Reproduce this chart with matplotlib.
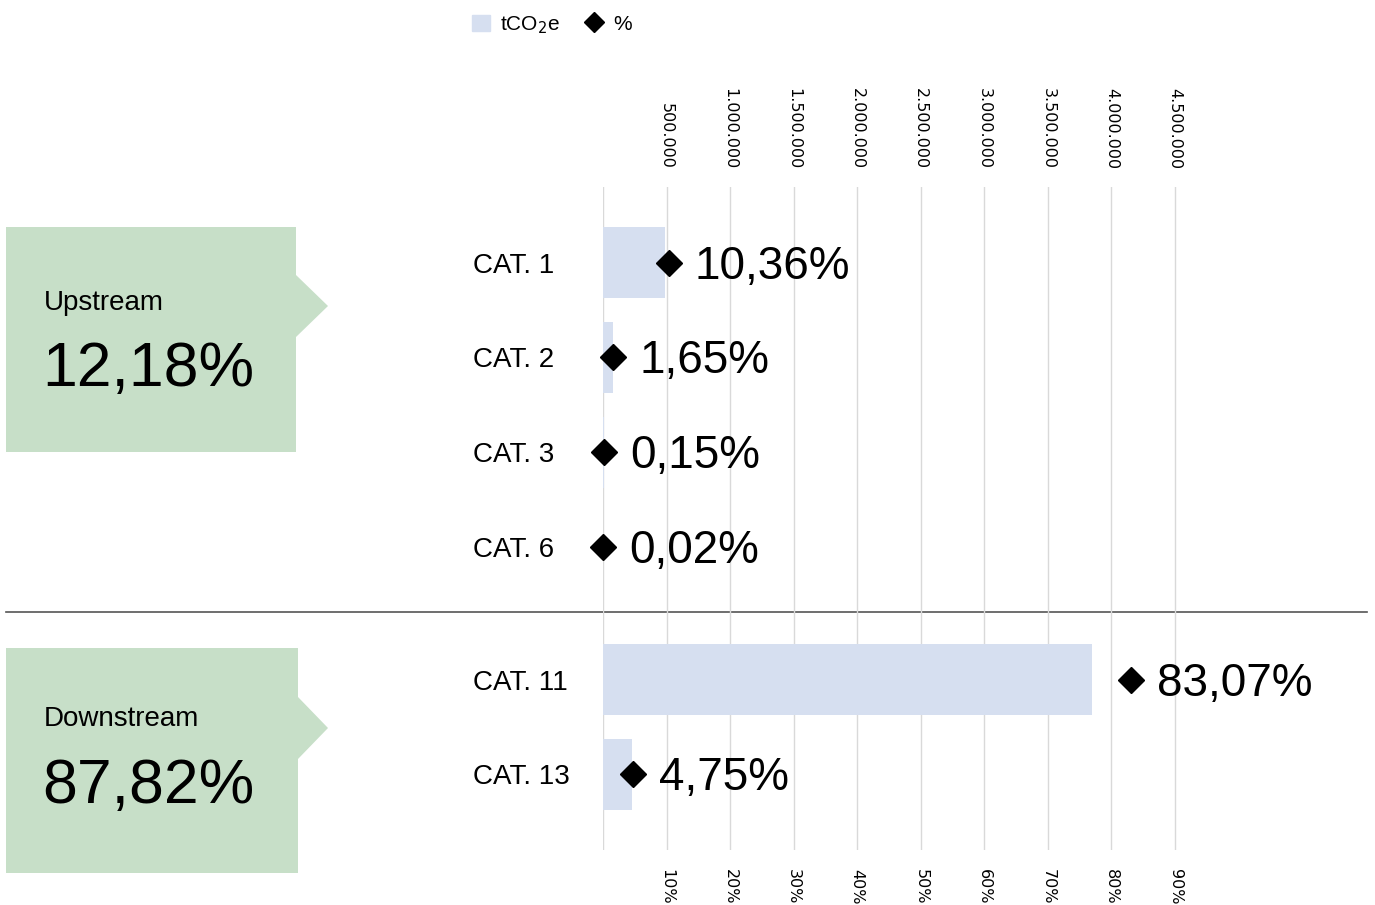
import numpy as np
import matplotlib
matplotlib.use("Agg")
import matplotlib.pyplot as plt
from matplotlib.patches import Polygon, Patch
from matplotlib.lines import Line2D

# =========================
# 数据
# =========================
upstream_cats = ["CAT. 1", "CAT. 2", "CAT. 3", "CAT. 6"]
upstream_tco2e = [487000, 79000, 7000, 1000]
upstream_pct = [10.36, 1.65, 0.15, 0.02]
upstream_labels = ["10,36%", "1,65%", "0,15%", "0,02%"]

downstream_cats = ["CAT. 11", "CAT. 13"]
downstream_tco2e = [3844000, 228000]
downstream_pct = [83.07, 4.75]
downstream_labels = ["83,07%", "4,75%"]

group_names = ["Upstream", "Downstream"]
group_totals = ["12,18%", "87,82%"]

top_ticks = [500000, 1000000, 1500000, 2000000, 2500000, 3000000, 3500000, 4000000, 4500000]
top_ticklabels = ["500.000", "1.000.000", "1.500.000", "2.000.000", "2.500.000",
                  "3.000.000", "3.500.000", "4.000.000", "4.500.000"]
pct_ticks = [10, 20, 30, 40, 50, 60, 70, 80, 90]
pct_ticklabels = ["10%", "20%", "30%", "40%", "50%", "60%", "70%", "80%", "90%"]

# =========================
# 样式
# =========================
BAR_COLOR = "#d6dff0"
BOX_COLOR = "#c7dfc8"
GRID_COLOR = "#d9d9d9"
FONT = ["Liberation Sans", "DejaVu Sans"]
TCO2E_PER_PCT = 50000  # 10% 与 500.000 对齐

W, H = 1375, 905
fig = plt.figure(figsize=(W / 100, H / 100), dpi=100)

# 背景覆盖层 (像素坐标): 绿色框 + 分隔线
ov = fig.add_axes([0, 0, 1, 1], zorder=0)
ov.set_xlim(0, W)
ov.set_ylim(H, 0)
ov.axis("off")

# 主图区域 (像素 -> 比例)
ax_left, ax_right, ax_top, ax_bottom = 603, 1230, 187, 850
ax = fig.add_axes([ax_left / W, 1 - ax_bottom / H, (ax_right - ax_left) / W, (ax_bottom - ax_top) / H],
                  zorder=1)
ax.patch.set_visible(False)

cats = upstream_cats + downstream_cats
vals = upstream_tco2e + downstream_tco2e
pcts = upstream_pct + downstream_pct
plabels = upstream_labels + downstream_labels
gap = 0.4
ypos = np.concatenate([np.arange(len(upstream_cats)),
                       np.arange(len(downstream_cats)) + len(upstream_cats) + gap])

xmax = (ax_right - ax_left) / ((1175 - 603) / 9) * 500000
ax.barh(ypos, vals, height=0.75, color=BAR_COLOR, zorder=2)
pct_x = np.array(pcts) * TCO2E_PER_PCT
ax.plot(pct_x, ypos, "D", color="black", ms=13.5, zorder=4, clip_on=False)

# 百分比标签: 菱形右侧约 26px
for x, y, t in zip(pct_x, ypos, plabels):
    ax.annotate(t, (x, y), xytext=(26 * 0.72, -16 * 0.72), textcoords="offset points",
                fontsize=33, family=FONT, va="baseline", ha="left",
                annotation_clip=False, zorder=5)

ax.set_xlim(0, xmax)
ax.set_ylim(ypos[-1] + 0.8, -0.8)

# 顶部 tCO2e 轴
ax.xaxis.tick_top()
ax.set_xticks(top_ticks)
ax.set_xticklabels(top_ticklabels, rotation=-90, fontsize=11.5, family="DejaVu Sans", color="black")
ax.tick_params(axis="x", length=0, pad=13)
ax.grid(axis="x", color=GRID_COLOR, lw=1, zorder=0)
ax.axvline(0, color=GRID_COLOR, lw=1, zorder=1)

# 类别标签
ax.set_yticks(ypos)
ax.set_yticklabels(cats, fontsize=20, family=FONT)
for lbl in ax.get_yticklabels():
    lbl.set_horizontalalignment("left")
ax.tick_params(axis="y", length=0, pad=(ax_left - 473) * 0.72)

for s in ax.spines.values():
    s.set_visible(False)

# 底部百分比轴
sec = ax.secondary_xaxis("bottom", functions=(lambda x: x / TCO2E_PER_PCT, lambda p: p * TCO2E_PER_PCT))
sec.set_xticks(pct_ticks)
sec.set_xticklabels(pct_ticklabels, rotation=-90, fontsize=11.5, family="DejaVu Sans", color="black")
sec.tick_params(length=0, pad=14)
for s in sec.spines.values():
    s.set_visible(False)

boxes = [(227, 452, 296, 306), (648, 873, 298, 728)]
for (top, bot, right, mid) in boxes:
    ov.add_patch(Polygon([(6, top), (right, top), (right, mid - 31), (328, mid),
                          (right, mid + 31), (right, bot), (6, bot)],
                         closed=True, color=BOX_COLOR, lw=0))

ov.text(44, 310, group_names[0], fontsize=20, family=FONT, va="baseline")
ov.text(42, 386, group_totals[0], fontsize=45, family=FONT, va="baseline")
ov.text(44, 726, group_names[1], fontsize=20, family=FONT, va="baseline")
ov.text(42, 803, group_totals[1], fontsize=45, family=FONT, va="baseline")

ov.plot([6, 1367], [612, 612], color="#555555", lw=1.2)

# 图例
handles = [Patch(color=BAR_COLOR),
           Line2D([], [], marker="D", ls="", color="black", ms=10)]
fig.legend(handles, ["tCO$_2$e", "%"], loc="center", bbox_to_anchor=(552 / W, 1 - 25 / H),
           ncol=2, frameon=False, prop={"family": FONT, "size": 15},
           handlelength=0.85, handleheight=0.85, handletextpad=0.5, columnspacing=1.2)

fig.savefig("out.png", dpi=100)
